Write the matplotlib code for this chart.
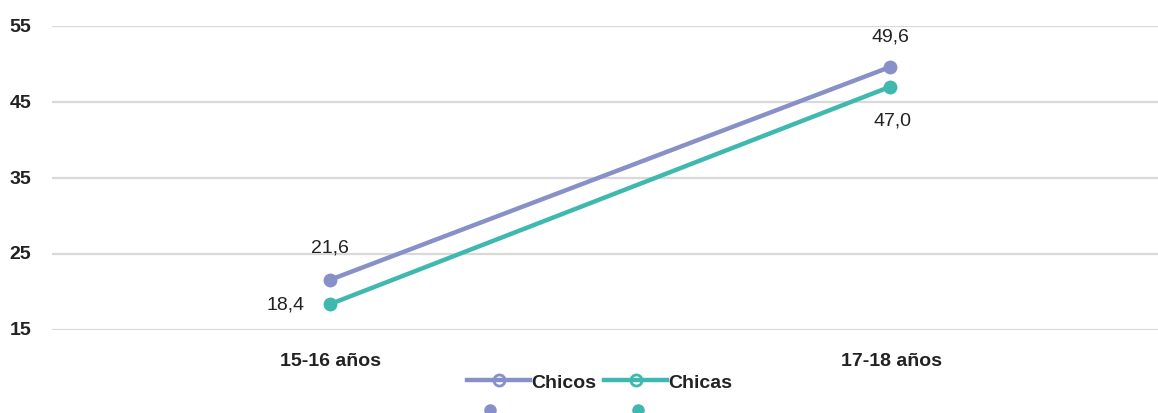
import matplotlib
matplotlib.use("Agg")
import matplotlib.pyplot as plt
from matplotlib.lines import Line2D

categories = ["15-16 años", "17-18 años"]
chicos = [21.6, 49.6]
chicas = [18.4, 47.0]
chicos_labels = ["21,6", "49,6"]
chicas_labels = ["18,4", "47,0"]
yticks = [15, 25, 35, 45, 55]

c_chicos = "#8890C8"
c_chicas = "#3FB8B0"
fam = ["Liberation Sans", "DejaVu Sans"]
fs = 14

fig = plt.figure(figsize=(11.58, 4.14), dpi=100)
ax = fig.add_axes([52 / 1158, (414 - 331) / 414, 1106 / 1158, (331 - 27) / 414])

x = list(range(len(categories)))
ax.plot(x, chicos, color=c_chicos, lw=3.2, marker="o", ms=9, solid_capstyle="round", zorder=3)
ax.plot(x, chicas, color=c_chicas, lw=3.2, marker="o", ms=9, solid_capstyle="round", zorder=3)

ax.set_xlim(-278 / 560, 1 + 268 / 560)
ax.set_ylim(15, 55)
ax.set_yticks(yticks)
ax.grid(axis="y", color="#D9D9D9", lw=1.6)
ax.set_axisbelow(True)
for s in ax.spines.values():
    s.set_visible(False)
ax.tick_params(length=0)
ax.set_xticks([])
ax.set_yticklabels([])

# y tick labels
for v in yticks:
    ax.annotate(str(v), (ax.get_xlim()[0], v), xytext=(-21, 0), textcoords="offset pixels",
                ha="right", va="center", fontsize=fs, fontweight="bold", family=fam,
                color="#222222", annotation_clip=False)
# x tick labels
for i, c in enumerate(categories):
    ax.annotate(c, (i, 15), xytext=(2 * i, -31), textcoords="offset pixels",
                ha="center", va="center", fontsize=fs, fontweight="bold", family=fam,
                color="#222222", annotation_clip=False)

# data labels
ax.annotate(chicos_labels[0], (0, chicos[0]), xytext=(0, 33), textcoords="offset pixels",
            ha="center", va="center", fontsize=fs, family=fam, color="#222222")
ax.annotate(chicas_labels[0], (0, chicas[0]), xytext=(-44, 0), textcoords="offset pixels",
            ha="center", va="center", fontsize=fs, family=fam, color="#222222")
ax.annotate(chicos_labels[1], (1, chicos[1]), xytext=(0, 31), textcoords="offset pixels",
            ha="center", va="center", fontsize=fs, family=fam, color="#222222")
ax.annotate(chicas_labels[1], (1, chicas[1]), xytext=(3, -33), textcoords="offset pixels",
            ha="center", va="center", fontsize=fs, family=fam, color="#222222")

handles = [
    Line2D([], [], color=c_chicos, lw=3.2, marker="o", ms=8, mfc="none", mew=2),
    Line2D([], [], color=c_chicas, lw=3.2, marker="o", ms=8, mfc="none", mew=2),
]
leg = fig.legend(handles, ["Chicos", "Chicas"], loc="center", bbox_to_anchor=(600 / 1158, 1 - 383 / 414),
                 ncol=2, frameon=False, handlelength=3.2, handletextpad=0.1, columnspacing=0.4,
                 prop={"family": fam, "weight": "bold", "size": fs})
for t in leg.get_texts():
    t.set_color("#222222")

handles2 = [
    Line2D([], [], color=c_chicos, lw=0, marker="o", ms=8),
    Line2D([], [], color=c_chicas, lw=0, marker="o", ms=8),
]
fig.legend(handles2, ["", ""], loc="center", bbox_to_anchor=(564 / 1158, 1 - 412 / 414),
           ncol=2, frameon=False, handlelength=1.0, handletextpad=0, columnspacing=6.6,
           prop={"size": 14})

fig.savefig("out.png", dpi=100)
